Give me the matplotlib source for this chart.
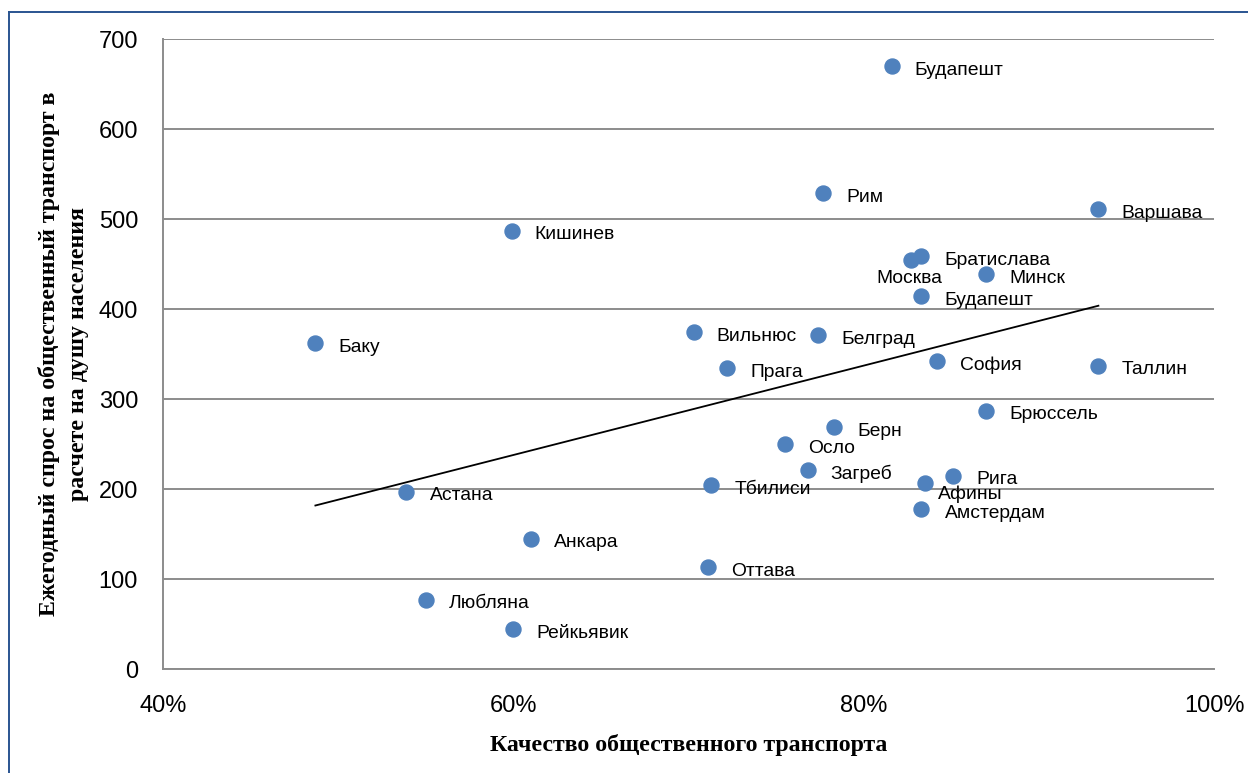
import numpy as np
import matplotlib
matplotlib.use('Agg')
import matplotlib.pyplot as plt
from matplotlib.lines import Line2D
from matplotlib.ticker import FuncFormatter

plt.rcParams['font.family'] = ['Liberation Sans', 'DejaVu Sans']

# города, качество транспорта (%), спрос (поездок на душу в год)
cities = ['Будапешт', 'Рим', 'Варшава', 'Кишинев', 'Братислава', 'Москва',
          'Минск', 'Будапешт', 'Баку', 'Вильнюс', 'Белград', 'Прага', 'София',
          'Таллин', 'Брюссель', 'Берн', 'Осло', 'Загреб', 'Тбилиси', 'Рига',
          'Афины', 'Амстердам', 'Астана', 'Анкара', 'Оттава', 'Любляна',
          'Рейкьявик']
quality = [81.6, 77.7, 93.4, 59.9, 83.3, 82.7, 87.0, 83.3, 48.7, 70.3, 77.4,
           72.2, 84.2, 93.4, 87.0, 78.3, 75.5, 76.8, 71.3, 85.1, 83.5, 83.3,
           53.9, 61.0, 71.1, 55.0, 60.0]
demand = [670, 529, 511, 487, 459, 454, 439, 414, 362, 374, 371, 334, 342,
          337, 287, 269, 250, 221, 204, 215, 207, 178, 197, 145, 113, 77, 44]

# подписи, смещённые не как у остальных (px)
special = {'Москва': (-2, -23, 'center'), 'Афины': (13, -16, 'left')}

fig = plt.figure(figsize=(12.48, 7.73), dpi=100)
ax = fig.add_axes([163/1248, 1-669/773, (1214-163)/1248, (669-39)/773])

grid_c = '#8c8c8c'
ax.set_xlim(40, 100)
ax.set_ylim(0, 700)
ax.set_xticks([40, 60, 80, 100])
ax.set_yticks(range(0, 701, 100))
ax.xaxis.set_major_formatter(FuncFormatter(lambda v, p: '%d%%' % v))
ax.grid(axis='y', color=grid_c, lw=1.4)
ax.set_axisbelow(True)
for s in ['top', 'right']:
    ax.spines[s].set_visible(False)
for s in ['left', 'bottom']:
    ax.spines[s].set_color(grid_c)
    ax.spines[s].set_linewidth(1.4)
ax.tick_params(axis='both', length=0, labelsize=17)
ax.tick_params(axis='y', pad=18)
ax.tick_params(axis='x', pad=19)

# линейный тренд
k, b = np.polyfit(quality, demand, 1)
xt = np.array([min(quality), max(quality)])
ax.plot(xt, k*xt + b, color='black', lw=1.3, zorder=2)

ax.plot(quality, demand, 'o', color='#4f81bd', ms=10.8, mec='#4f81bd', zorder=3)

px = 72/100
for name, xv, yv in zip(cities, quality, demand):
    dx, dy, ha = special.get(name, (23, -8.7, 'left'))
    ax.annotate(name, (xv, yv), xytext=(dx*px, dy*px), textcoords='offset points',
                ha=ha, va='baseline', fontsize=13.9, zorder=4)

ax.set_xlabel('Качество общественного транспорта', family='Liberation Serif',
              fontweight='bold', fontsize=17.2, labelpad=12)
ax.set_ylabel('Ежегодный спрос на общественный транспорт в\nрасчете на душу населения',
              family='Liberation Serif', fontweight='bold', fontsize=17.2,
              linespacing=1.5)
ax.yaxis.set_label_coords((64-163)/1051, 0.5)
ax.yaxis.label.set_va('center')

# рамка диаграммы
fc = '#2a5490'
fig.add_artist(Line2D([9/1248, 9/1248], [0, 1-12/773], color=fc, lw=1.4))
fig.add_artist(Line2D([9/1248, 1], [1-12/773, 1-12/773], color=fc, lw=1.4))

fig.savefig('out.png', dpi=100)
